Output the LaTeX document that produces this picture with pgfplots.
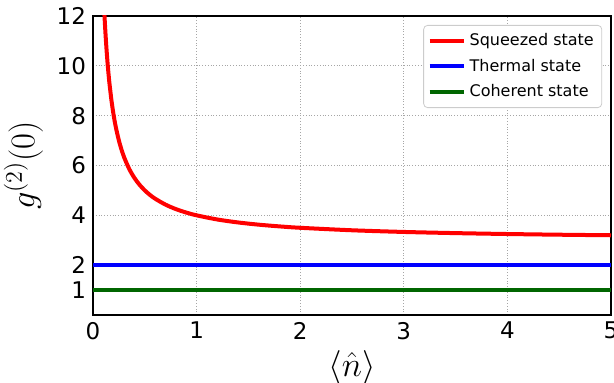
\documentclass[border=0pt]{standalone}
\usepackage{pgfplots}
\pgfplotsset{compat=1.18}
\usepackage{fontspec}
\setmainfont{DejaVu Sans}
\usetikzlibrary{calc}
\definecolor{dgreen}{rgb}{0,0.4,0}
\begin{document}
\begin{tikzpicture}
\begin{axis}[
  name=ax,
  scale only axis,
  width=259pt, height=149.5pt,
  xmin=0, xmax=5, ymin=0, ymax=12,
  xtick={0,1,2,3,4,5},
  ytick={1,2,4,6,8,10,12},
  tick style={draw=none},
  grid=major,
  major grid style={gray!70, densely dotted, line width=0.4pt},
  axis line style={black, line width=0.8pt},
  ticklabel style={font=\fontsize{11.5}{13}\selectfont},
  /pgf/number format/assume math mode=true,
  xlabel={$\langle\hat{n}\rangle$},
  ylabel={$g^{(2)}(0)$},
  label style={font=\fontsize{17.5}{20}\selectfont},
  xlabel style={yshift=1.5pt},
  ylabel style={yshift=0pt},
  legend style={at={(0.983,0.97)}, anchor=north east, draw=gray!40, rounded corners=2pt,
    font=\fontsize{8}{9.5}\selectfont, row sep=1.2pt, inner xsep=2pt, inner ysep=2pt},
  legend cell align=left,
  legend image code/.code={\draw[#1, line width=2pt] (0pt,0pt) -- (17pt,0pt);},
]
\addplot[red, line width=2pt, smooth] coordinates {
(0.08,15.5)(0.09,14.111)(0.1,13)(0.111,12.009)(0.12,11.333)(0.13,10.692)(0.14,10.143)(0.15,9.667)
(0.16,9.25)(0.18,8.556)(0.2,8)(0.22,7.545)(0.25,7)(0.28,6.571)(0.3,6.333)
(0.35,5.857)(0.4,5.5)(0.45,5.222)(0.5,5)(0.55,4.818)(0.6,4.667)(0.7,4.429)
(0.8,4.25)(0.9,4.111)(1.0,4)(1.2,3.833)(1.4,3.714)(1.6,3.625)(1.8,3.556)
(2.0,3.5)(2.5,3.4)(3.0,3.333)(3.5,3.286)(4.0,3.25)(4.5,3.222)(5.0,3.2)};
\addlegendentry{Squeezed state}
\addplot[blue, line width=2pt] coordinates {(0,2)(5,2)};
\addlegendentry{Thermal state}
\addplot[dgreen, line width=2pt] coordinates {(0,1)(5,1)};
\addlegendentry{Coherent state}
\end{axis}
\pgfresetboundingbox
\useasboundingbox ($(ax.south west)+(-46.5pt,-34pt)$) rectangle ($(ax.north east)+(1.5pt,8pt)$);
\end{tikzpicture}
\end{document}
